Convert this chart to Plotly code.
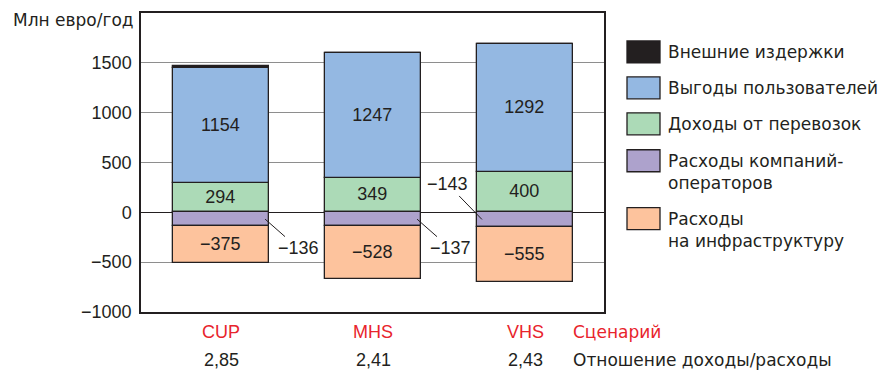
import plotly.graph_objects as go

# ---- data ----
scenarios = ["CUP", "MHS", "VHS"]
ratios = ["2,85", "2,41", "2,43"]
external_costs = [20, 0, 0]
user_benefits = [1154, 1247, 1292]
transport_revenue = [294, 349, 400]
operator_costs = [-136, -137, -143]
infra_costs = [-375, -528, -555]

series_names = [
    "Внешние издержки",
    "Выгоды пользователей",
    "Доходы от перевозок",
    "Расходы компаний-<br>операторов",
    "Расходы<br>на инфраструктуру",
]
series_colors = ["#231f20", "#94b8e2", "#acdab7", "#ada2cc", "#fdc39d"]

y_title = "Млн евро/год"
scenario_title = "Сценарий"
ratio_title = "Отношение доходы/расходы"
y_ticks = [-1000, -500, 0, 500, 1000, 1500]

NUM_FONT = "Liberation Sans, Arial, Helvetica, sans-serif"
TXT_FONT = "DejaVu Sans, Liberation Sans, Arial, sans-serif"
INK = "#231f20"
RED = "#e8242c"
NFS = 18   # digits / latin
TFS = 17   # cyrillic text

# plot-area geometry in pixels
W, H = 894, 372
L, R, T, B = 141, 604, 13, 312.5
PW, PH = R - L, B - T


def px_x(px):
    return (px - L) / PW


def px_y(py):
    return (B - py) / PH


def fmt(v):
    return ("\u2212" + str(abs(v))) if v < 0 else str(v)


x = list(range(len(scenarios)))
fig = go.Figure()

order = [
    (transport_revenue, 2, True),
    (user_benefits, 1, True),
    (external_costs, 0, False),
    (operator_costs, 3, False),
    (infra_costs, 4, True),
]
for vals, idx, show_text in order:
    fig.add_trace(go.Bar(
        x=x, y=vals, name=series_names[idx],
        marker=dict(color=series_colors[idx], line=dict(color=INK, width=1.3)),
        width=0.63,
        text=[fmt(v) for v in vals] if show_text else None,
        textposition="inside" if show_text else "none",
        insidetextanchor="middle",
        textfont=dict(family=NUM_FONT, size=NFS, color=INK),
        showlegend=False,
        hoverinfo="skip",
    ))

annotations = []

# operator cost callouts (leader lines)
callout_dx = [0.29, 0.29, -0.283]
callout_ax = [33, 33, -34]
callout_ay = [29, 29, -35]
for i, v in enumerate(operator_costs):
    annotations.append(dict(
        x=i + callout_dx[i], y=v / 2, xref="x", yref="y",
        text=fmt(v), showarrow=True, arrowhead=0, arrowwidth=1,
        arrowcolor=INK, ax=callout_ax[i], ay=callout_ay[i], standoff=0,
        font=dict(family=NUM_FONT, size=NFS, color=INK),
    ))

# y-axis title
annotations.append(dict(
    x=px_x(136), y=px_y(20), xref="paper", yref="paper",
    xanchor="right", yanchor="middle", text=y_title, showarrow=False,
    font=dict(family=TXT_FONT, size=TFS, color=INK),
))

# scenario names and ratios under the bars
for i, (s, r) in enumerate(zip(scenarios, ratios)):
    annotations.append(dict(x=i, y=px_y(333), xref="x", yref="paper",
                            text=s, showarrow=False, yanchor="middle",
                            font=dict(family=NUM_FONT, size=NFS, color=RED)))
    annotations.append(dict(x=i, y=px_y(361), xref="x", yref="paper",
                            text=r, showarrow=False, yanchor="middle",
                            font=dict(family=NUM_FONT, size=NFS, color=INK)))
annotations.append(dict(x=px_x(571), y=px_y(333), xref="paper", yref="paper",
                        xanchor="left", yanchor="middle", text=scenario_title,
                        showarrow=False, font=dict(family=TXT_FONT, size=TFS, color=RED)))
annotations.append(dict(x=px_x(571), y=px_y(361), xref="paper", yref="paper",
                        xanchor="left", yanchor="middle", text=ratio_title,
                        showarrow=False, font=dict(family=TXT_FONT, size=TFS, color=INK)))

# manual legend
shapes = []
sw_top = [41, 77, 113, 150, 208]
sw_h = 22
for k, name in enumerate(series_names):
    shapes.append(dict(
        type="rect", xref="paper", yref="paper",
        x0=px_x(627), x1=px_x(660), y0=px_y(sw_top[k] + sw_h), y1=px_y(sw_top[k]),
        fillcolor=series_colors[k], line=dict(color=INK, width=1.3),
    ))
    n_lines = name.count("<br>") + 1
    center = sw_top[k] + sw_h / 2 + (n_lines - 1) * 22.5 / 2
    annotations.append(dict(
        x=px_x(666), y=px_y(center), xref="paper", yref="paper",
        xanchor="left", yanchor="middle", align="left", text=name,
        showarrow=False, font=dict(family=TXT_FONT, size=TFS, color=INK),
    ))

fig.update_layout(
    width=W, height=H,
    margin=dict(l=L, r=W - R, t=T, b=H - B),
    barmode="relative",
    bargap=0,
    paper_bgcolor="white", plot_bgcolor="white",
    font=dict(family=NUM_FONT, size=NFS, color=INK),
    uniformtext=dict(minsize=NFS, mode="show"),
    annotations=annotations,
    shapes=shapes,
    showlegend=False,
)
fig.update_xaxes(
    range=[(L - 221) / 152, (R - 221) / 152],
    showticklabels=False, showgrid=False, zeroline=False,
    showline=True, mirror=True, linecolor=INK, linewidth=1.5, ticks="",
)
fig.update_yaxes(
    range=[-1000, 2000],
    tickvals=y_ticks, ticktext=[fmt(v) for v in y_ticks],
    tickfont=dict(family=NUM_FONT, size=NFS, color=INK),
    showgrid=True, gridcolor="#8e8e8e", gridwidth=1,
    zeroline=True, zerolinecolor=INK, zerolinewidth=1.3,
    showline=True, mirror=True, linecolor=INK, linewidth=1.5, ticks="",
    ticklabelstandoff=4,
)

fig.write_html("out.html")
